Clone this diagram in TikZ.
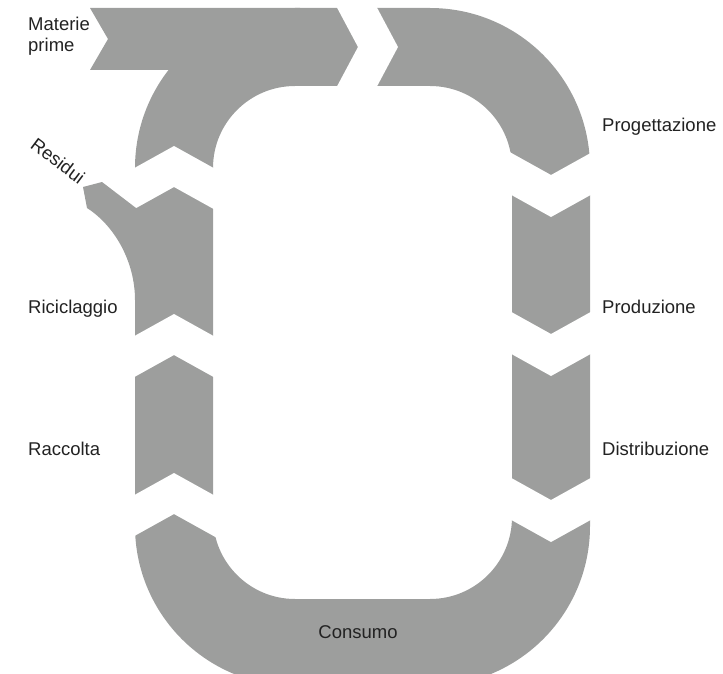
\documentclass[tikz,border=0pt]{standalone}
\usepackage{fontspec}
\setmainfont{Liberation Sans}
\definecolor{ringgray}{HTML}{9D9E9D}
\definecolor{labelgray}{HTML}{222222}

\begin{document}
\begin{tikzpicture}[x=1pt,y=-1pt,
	piece/.style={fill=ringgray},
	gap/.style={fill=white},
	lbl/.style={font=\fontsize{18.5}{21}\selectfont, text=labelgray, inner sep=0pt}]
	\useasboundingbox (0,0) rectangle (723,674);
	\clip (0,0) rectangle (723,674);
	\fill[piece, even odd rule] [rounded corners=160pt] (135,8) rectangle (590,686) [rounded corners=82pt] (213,86) rectangle (512,599);
	\fill[piece] (90,8) -- (108,39) -- (90,70) -- (300,70) -- (300,8) -- cycle;
	\fill[gap] (334,2) -- (358,47) -- (334,92) -- (374,92) -- (398,47) -- (374,2) -- cycle;
	\foreach \t in {175,334,500}
		\fill[gap] (506,\t-25) -- (551,\t) -- (596,\t-25) -- (596,\t+17) -- (551,\t+42) -- (506,\t+17) -- cycle;
	\foreach \b in {187,355,514}
		\fill[gap] (129,\b+25) -- (174,\b) -- (219,\b+25) -- (219,\b-16) -- (174,\b-41) -- (129,\b-16) -- cycle;
	\fill[piece] (83,187) -- (102,182) -- (136,208) -- (140,208) -- (140,300) -- (135,300) .. controls (135,262) and (115,226) .. (87,208) -- cycle;
	\node[lbl, anchor=north west, align=left] (materie) at (28,17) {Materie\\prime};
	\node[lbl, rotate=-37] (residui) at (58,161) {Residui};
	\node[lbl, anchor=base west] (progettazione) at (602,132) {Progettazione};
	\node[lbl, anchor=base west] (produzione) at (602,313) {Produzione};
	\node[lbl, anchor=base west] (distribuzione) at (602,455) {Distribuzione};
	\node[lbl, anchor=base west] (riciclaggio) at (28,313) {Riciclaggio};
	\node[lbl, anchor=base west] (raccolta) at (28,455) {Raccolta};
	\node[lbl, anchor=base] (consumo) at (358,638) {Consumo};
\end{tikzpicture}
\end{document}
